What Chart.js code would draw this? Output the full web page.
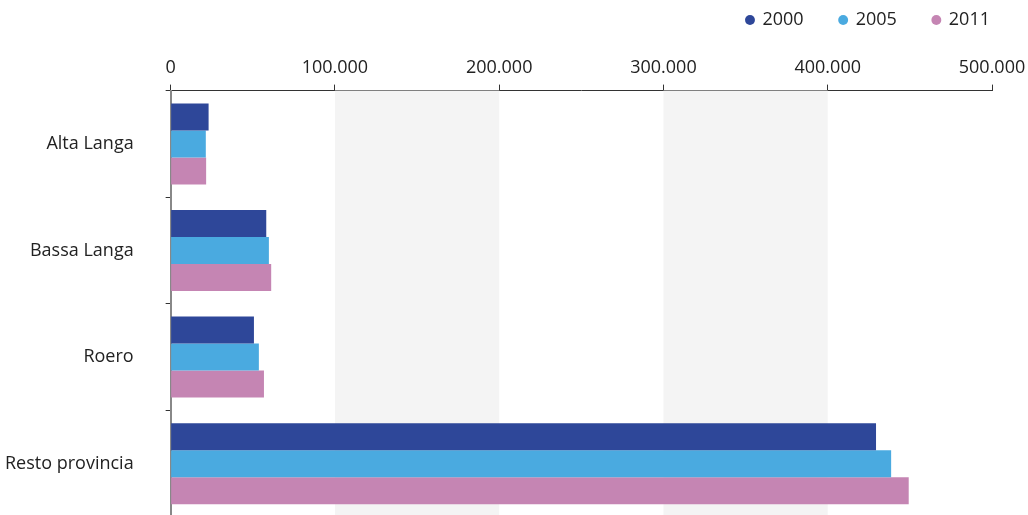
<!DOCTYPE html>
<html>
<head>
<meta charset="utf-8">
<script src="https://cdn.jsdelivr.net/npm/chart.js@4"></script>
<style>
    html, body { margin: 0; padding: 0; background: #fff; overflow: hidden; }
    canvas { display: block; }
</style>
</head>
<body>
<canvas id="chart" width="1028" height="519"></canvas>
<script>
    'use strict';

    var categories = ['Alta Langa', 'Bassa Langa', 'Roero', 'Resto provincia'];
    var years = ['2000', '2005', '2011'];
    var values2000 = [23100, 58200, 50700, 429400];
    var values2005 = [21400, 59800, 53700, 438600];
    var values2011 = [21600, 61200, 56800, 449300];
    var xTicks = [0, 100000, 200000, 300000, 400000, 500000];
    var bands = [[100000, 200000], [300000, 400000]];

    var colors = ['#2e4799', '#4aaae0', '#c585b3'];

    function fmt(v) {
        return String(v).replace(/\B(?=(\d{3})+(?!\d))/g, '.');
    }

    // grey bands behind bars, placed through the x scale
    var bandPlugin = {
        id: 'bands',
        afterLayout: function(chart) {
            // push legend to the right edge (chart.js leaves trailing padding)
            if (chart.legend) {
                chart.legend.right += 34;
            }
        },
        beforeDatasetsDraw: function(chart) {
            var x = chart.scales.x;
            var area = chart.chartArea;
            var ctx = chart.ctx;
            ctx.save();
            ctx.fillStyle = '#f4f4f4';
            bands.forEach(function(b) {
                var x0 = x.getPixelForValue(b[0]);
                var x1 = x.getPixelForValue(b[1]);
                ctx.fillRect(x0, area.top, x1 - x0, area.bottom - area.top);
            });
            ctx.restore();
        }
    };

    var font = { family: '"Open Sans", sans-serif', size: 18 };

    new Chart(document.getElementById('chart'), {
        type: 'bar',
        data: {
            labels: categories,
            datasets: [
                { label: years[0], data: values2000, backgroundColor: colors[0] },
                { label: years[1], data: values2005, backgroundColor: colors[1] },
                { label: years[2], data: values2011, backgroundColor: colors[2] }
            ]
        },
        options: {
            indexAxis: 'y',
            responsive: false,
            animation: false,
            datasets: {
                bar: { categoryPercentage: 0.76, barPercentage: 1 }
            },
            layout: { padding: { top: -25, right: 36, left: -27, bottom: 2 } },
            plugins: {
                legend: {
                    position: 'top',
                    align: 'end',
                    labels: {
                        usePointStyle: true,
                        pointStyle: 'circle',
                        boxWidth: 7,
                        boxHeight: 7,
                        padding: 36,
                        color: '#222',
                        font: font
                    }
                },
                tooltip: { enabled: false }
            },
            scales: {
                x: {
                    position: 'top',
                    min: 0,
                    max: 500000,
                    afterBuildTicks: function(scale) {
                        scale.ticks = xTicks.map(function(v) { return { value: v }; });
                    },
                    afterFit: function(scale) {
                        scale.height += 12;
                        scale.paddingLeft = 0;
                        scale.paddingRight = 0;
                    },
                    ticks: {
                        color: '#222',
                        font: font,
                        padding: 6,
                        maxRotation: 0,
                        callback: function(v) { return fmt(v); }
                    },
                    grid: {
                        drawOnChartArea: false,
                        tickLength: 6,
                        color: '#333'
                    },
                    border: { color: '#333', width: 1 }
                },
                y: {
                    afterFit: function(scale) {
                        scale.paddingTop = 0;
                        scale.paddingBottom = 0;
                    },
                    ticks: {
                        color: '#222',
                        font: font,
                        padding: 32
                    },
                    grid: {
                        drawOnChartArea: false,
                        tickLength: 5,
                        color: '#333'
                    },
                    border: { color: '#888', width: 2 }
                }
            }
        },
        plugins: [bandPlugin]
    });
</script>
</body>
</html>
